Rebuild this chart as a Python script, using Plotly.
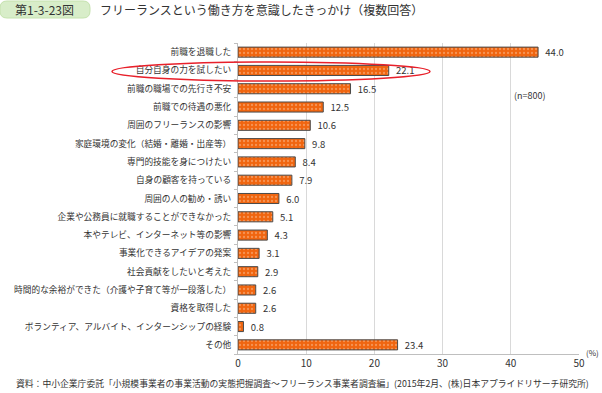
import plotly.graph_objects as go

categories = [
    "前職を退職した",
    "自分自身の力を試したい",
    "前職の職場での先行き不安",
    "前職での待遇の悪化",
    "周囲のフリーランスの影響",
    "家庭環境の変化（結婚・離婚・出産等）",
    "専門的技能を身につけたい",
    "自身の顧客を持っている",
    "周囲の人の勧め・誘い",
    "企業や公務員に就職することができなかった",
    "本やテレビ、インターネット等の影響",
    "事業化できるアイデアの発案",
    "社会貢献をしたいと考えた",
    "時間的な余裕ができた（介護や子育て等が一段落した）",
    "資格を取得した",
    "ボランティア、アルバイト、インターンシップの経験",
    "その他",
]
values = [44.0, 22.1, 16.5, 12.5, 10.6, 9.8, 8.4, 7.9, 6.0, 5.1, 4.3, 3.1, 2.9, 2.6, 2.6, 0.8, 23.4]
x_ticks = [0, 10, 20, 30, 40, 50]

FONT = "Noto Sans CJK JP"

# pixel -> paper helpers (plot area: x 238..579, y 43..354)
def px(x):
    return (x - 238) / 341

def py(y):
    return (354 - y) / 311

def rounded_rect(x0, y0, x1, y1, r):
    return (
        f"M {px(x0 + r)},{py(y0)} L {px(x1 - r)},{py(y0)} "
        f"Q {px(x1)},{py(y0)} {px(x1)},{py(y0 + r)} "
        f"L {px(x1)},{py(y1 - r)} "
        f"Q {px(x1)},{py(y1)} {px(x1 - r)},{py(y1)} "
        f"L {px(x0 + r)},{py(y1)} "
        f"Q {px(x0)},{py(y1)} {px(x0)},{py(y1 - r)} "
        f"L {px(x0)},{py(y0 + r)} "
        f"Q {px(x0)},{py(y0)} {px(x0 + r)},{py(y0)} Z"
    )

fig = go.Figure()
fig.add_trace(go.Bar(
    x=values,
    y=categories,
    orientation="h",
    width=0.55,
    marker=dict(
        color="#f0650f",
        line=dict(color="#4a4a4a", width=1),
        pattern=dict(shape=".", fgcolor="#f9c29a", size=4, solidity=0.25),
    ),
    text=["\u00a0\u00a0" + f"{v:.1f}" for v in values],
    textposition="outside",
    constraintext="none",
    cliponaxis=False,
    textfont=dict(family=FONT, size=9.5, color="#333333"),
    hoverinfo="skip",
))

fig.update_layout(
    width=602,
    height=393,
    margin=dict(l=238, r=23, t=43, b=39),
    paper_bgcolor="white",
    plot_bgcolor="white",
    showlegend=False,
    bargap=0.45,
    font=dict(family=FONT, size=9, color="#333333"),
    xaxis=dict(
        range=[0, 50],
        tickvals=x_ticks,
        ticktext=[str(t) for t in x_ticks],
        showgrid=True,
        gridcolor="#d9d9d9",
        gridwidth=1,
        zeroline=False,
        showline=True,
        linecolor="#bfbfbf",
        ticks="",
        tickfont=dict(family=FONT, size=10, color="#333333"),
        automargin=False,
        fixedrange=True,
    ),
    yaxis=dict(
        categoryorder="array",
        categoryarray=categories[::-1],
        showline=True,
        linecolor="#bfbfbf",
        ticks="outside",
        tickson="boundaries",
        ticklen=3,
        tickcolor="#bfbfbf",
        showgrid=False,
        automargin=False,
        tickfont=dict(family=FONT, size=8.7, color="#333333"),
        ticklabelstandoff=4,
        fixedrange=True,
    ),
    shapes=[
        dict(
            type="path", xref="paper", yref="paper",
            path=rounded_rect(0, 1, 90, 18, 7),
            fillcolor="#d8edc9", line=dict(color="#c5e2ae", width=1),
            layer="above",
        ),
        dict(
            type="circle", xref="paper", yref="paper",
            x0=px(112), x1=px(430),
            y0=py(81), y1=py(62),
            line=dict(color="#e8202a", width=1.5),
            fillcolor="rgba(0,0,0,0)",
            layer="above",
        ),
    ],
    annotations=[
        dict(
            text="第1-3-23図", xref="paper", yref="paper",
            x=px(45), y=py(9.5),
            xanchor="center", yanchor="middle", showarrow=False,
            font=dict(family=FONT, size=12, color="#333333"),
        ),
        dict(
            text="フリーランスという働き方を意識したきっかけ（複数回答）",
            xref="paper", yref="paper",
            x=px(98), y=py(9.5),
            xanchor="left", yanchor="middle", showarrow=False,
            font=dict(family=FONT, size=12, color="#333333"),
        ),
        dict(
            text="(n=800)", xref="paper", yref="paper",
            x=px(530), y=py(95),
            xanchor="center", yanchor="middle", showarrow=False,
            font=dict(family=FONT, size=9, color="#333333"),
        ),
        dict(
            text="(%)", xref="paper", yref="paper",
            x=px(584), y=py(352),
            xanchor="left", yanchor="middle", showarrow=False,
            font=dict(family=FONT, size=8, color="#333333"),
        ),
        dict(
            text="資料：中小企業庁委託「小規模事業者の事業活動の実態把握調査～フリーランス事業者調査編」(2015年2月、(株)日本アプライドリサーチ研究所)",
            xref="paper", yref="paper",
            x=px(14), y=py(383),
            xanchor="left", yanchor="middle", showarrow=False,
            font=dict(family=FONT, size=8.8, color="#333333"),
        ),
    ],
)

fig.write_html(
    "out.html",
    config={"displayModeBar": False, "staticPlot": False},
    post_script="document.body.style.margin='0';document.body.style.padding='0';",
)
